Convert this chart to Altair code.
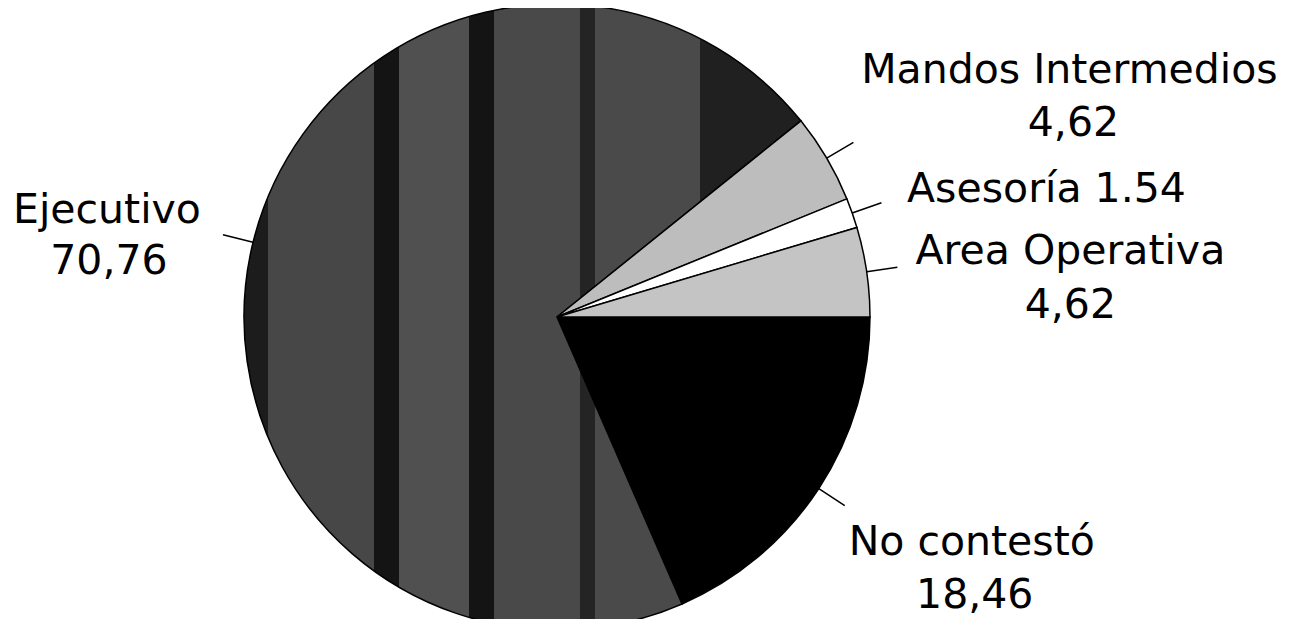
import math
import altair as alt
import pandas as pd

# ---- data ----
categories = ["No contestó", "Ejecutivo", "Mandos Intermedios", "Asesoría", "Area Operativa"]
values = [18.46, 70.76, 4.62, 1.54, 4.62]
value_labels = ["18,46", "70,76", "4,62", "1.54", "4,62"]

df = pd.DataFrame({
    "idx": list(range(len(categories))),
    "category": categories,
    "value": values,
    "label": value_labels,
})

# ---- layout / style constants ----
W, H = 1281, 611
CX, CY = 549, 309          # pie centre inside the view
R = 313                    # pie radius
R1, R2 = 313, 344          # leader line start / end radius
FONT = "DejaVu Sans"
FS = 41

slice_colors = ["#000000", "#3a3a3a", "#bdbdbd", "#ffffff", "#c4c4c4"]

def hard_stops(bands):
    stops = []
    for (a, b, c) in bands:
        stops.append({"offset": a, "color": c})
        stops.append({"offset": b, "color": c})
    return stops

ejecutivo_fill = {
    "gradient": "linear", "x1": 0, "y1": 0, "x2": 1, "y2": 0,
    "stops": hard_stops([
        (0.0, 0.043, "#1c1c1c"),
        (0.043, 0.233, "#474747"),
        (0.233, 0.278, "#141414"),
        (0.278, 0.404, "#505050"),
        (0.404, 0.449, "#141414"),
        (0.449, 0.603, "#494949"),
        (0.603, 0.630, "#242424"),
        (0.630, 0.819, "#4a4a4a"),
        (0.819, 1.0, "#202020"),
    ]),
}

theta_scale = alt.Scale(range=[math.pi / 2, math.pi / 2 + 2 * math.pi])

base = alt.Chart(df)

pie = base.mark_arc(outerRadius=R, stroke="black", strokeWidth=1.5).encode(
    theta=alt.Theta("value:Q", stack=True, scale=theta_scale),
    order=alt.Order("idx:Q"),
    color=alt.condition(
        "datum.category === 'Ejecutivo'",
        alt.value(ejecutivo_fill),
        alt.Color("category:N", scale=alt.Scale(domain=categories, range=slice_colors), legend=None),
    ),
    x=alt.value(CX),
    y=alt.value(CY),
)

geo = (
    base.transform_joinaggregate(total="sum(value)")
    .transform_window(cum="sum(value)", sort=[{"field": "idx"}], frame=[None, 0])
    .transform_calculate(
        ang=f"PI/2 + 2*PI*(datum.cum - datum.value/2)/datum.total",
        full="datum.category + '  ' + datum.label",
    )
    .transform_calculate(
        x1=f"{CX} + {R1}*sin(datum.ang)",
        y1=f"{CY} - {R1}*cos(datum.ang)",
        x2=f"{CX} + {R2}*sin(datum.ang)",
        y2=f"{CY} - {R2}*cos(datum.ang)",
    )
)

leaders = geo.mark_rule(color="black", strokeWidth=1.5).encode(
    x=alt.X("x1:Q", scale=None),
    y=alt.Y("y1:Q", scale=None),
    x2="x2:Q",
    y2="y2:Q",
)

# (category, text field, dx, dy) – label placement relative to leader end
label_specs = [
    ("Mandos Intermedios", "category", 216, -59),
    ("Mandos Intermedios", "label", 220, -6),
    ("Asesoría", "full", 165, -1),
    ("Area Operativa", "category", 173, -3),
    ("Area Operativa", "label", 173, 51),
    ("No contestó", "category", 127, 49),
    ("No contestó", "label", 130, 102),
    ("Ejecutivo", "category", -116, -12),
    ("Ejecutivo", "label", -114, 39),
]

texts = []
for cat, field, dx, dy in label_specs:
    texts.append(
        geo.transform_filter(alt.datum.category == cat)
        .mark_text(font=FONT, fontSize=FS, color="black", align="center",
                   baseline="alphabetic", dx=dx, dy=dy)
        .encode(
            x=alt.X("x2:Q", scale=None),
            y=alt.Y("y2:Q", scale=None),
            text=alt.Text(f"{field}:N"),
        )
    )

chart = (
    alt.layer(pie, leaders, *texts)
    .properties(width=W, height=H, padding=0, autosize=alt.AutoSizeParams(type="none"),
                background="white")
    .configure_view(stroke=None)
)

chart.save("out.html", embed_options={"renderer": "svg", "actions": False})
